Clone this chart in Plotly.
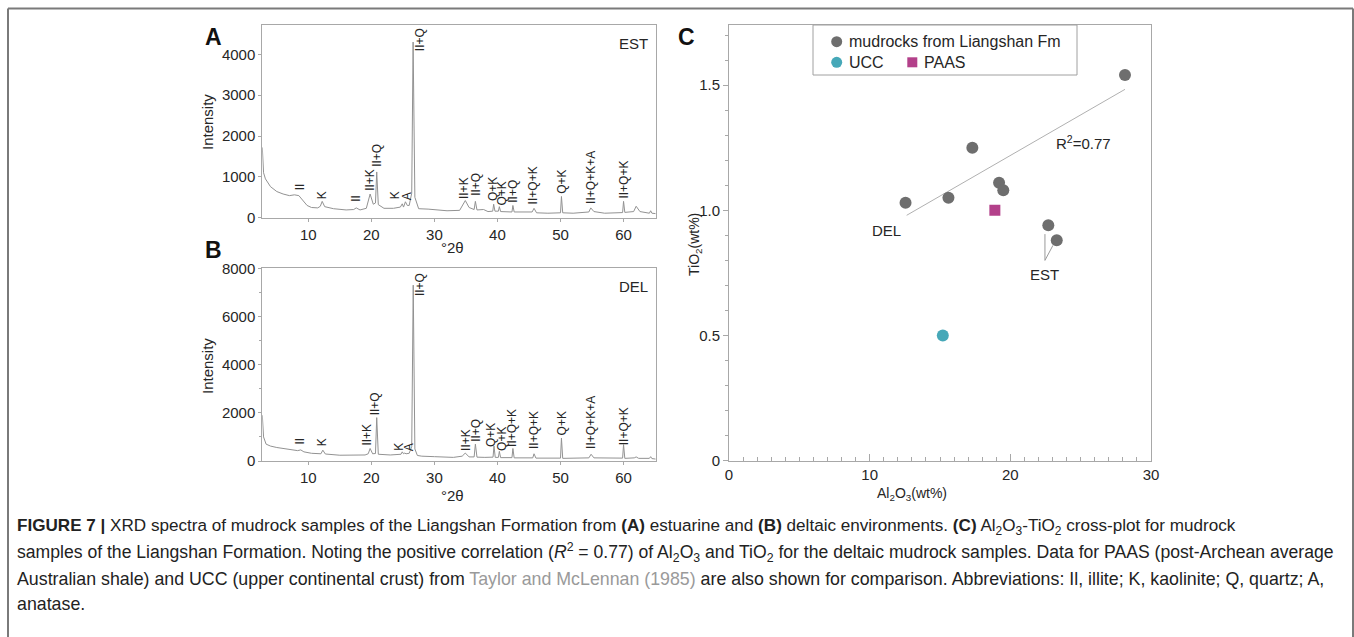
import plotly.graph_objects as go

W, H = 1354, 637

# ---------------- data ----------------
# Panel A (EST) XRD spectrum
est_2theta = [2.7, 2.9, 3.2, 4.0, 5.0, 6.0, 7.0, 7.8, 8.5, 9.2, 9.8, 10.5, 11.5, 11.9, 12.2, 12.6,
              14.0, 16.0, 17.2, 17.6, 18.2, 19.2, 19.8, 20.3, 20.65, 20.85, 21.1, 22.0, 23.5, 24.6,
              24.9, 25.1, 25.4, 25.7, 26.0, 26.4, 26.62, 26.9, 27.5, 29.0, 30.0, 32.0, 34.0, 34.5,
              34.9, 35.5, 36.3, 36.5, 36.75, 37.8, 38.5, 39.25, 39.4, 39.6, 40.15, 40.3, 40.5,
              42.3, 42.45, 42.65, 45.5, 45.8, 46.2, 48.0, 50.0, 50.15, 50.35, 52.0, 54.5, 54.8,
              55.3, 57.0, 59.85, 60.0, 60.2, 61.6, 62.0, 62.6, 64.1, 64.3, 64.5, 65.1]
est_int = [1720, 1100, 950, 760, 640, 580, 540, 560, 540, 420, 300, 250, 240, 280, 400, 270,
           220, 190, 200, 240, 190, 230, 580, 330, 360, 1120, 320, 230, 230, 260,
           340, 260, 390, 300, 300, 600, 4300, 500, 220, 210, 200, 170, 180, 300,
           420, 250, 200, 400, 190, 200, 150, 160, 330, 160, 160, 270, 150,
           140, 300, 140, 140, 230, 120, 110, 120, 520, 120, 110, 140, 240,
           150, 110, 125, 400, 130, 150, 280, 150, 110, 170, 110, 100]

# Panel B (DEL) XRD spectrum
del_2theta = [2.7, 2.9, 3.3, 4.0, 5.0, 6.0, 7.0, 8.3, 8.8, 9.3, 10.5, 11.5, 12.0, 12.3, 12.7,
              15.0, 17.5, 19.0, 19.5, 19.8, 20.2, 20.65, 20.85, 21.1, 23.0, 24.7, 24.9, 25.1,
              25.3, 25.5, 26.0, 26.4, 26.64, 26.9, 27.3, 28.0, 30.0, 33.0, 34.4, 34.9, 35.5,
              36.3, 36.5, 36.75, 38.0, 39.3, 39.45, 39.65, 40.15, 40.3, 40.5, 42.3, 42.45,
              42.65, 45.6, 45.8, 46.1, 48.0, 50.0, 50.15, 50.35, 54.5, 54.85, 55.3, 59.85,
              60.0, 60.2, 61.7, 62.0, 62.4, 64.1, 64.3, 64.5, 65.1]
del_int = [1900, 1000, 700, 620, 560, 520, 480, 430, 460, 380, 320, 290, 300, 450, 290,
           240, 230, 250, 300, 520, 300, 310, 1800, 280, 250, 280, 380, 300,
           330, 300, 320, 600, 7300, 500, 230, 200, 180, 150, 200, 330, 170,
           170, 700, 160, 150, 160, 620, 150, 150, 400, 140, 140, 520,
           130, 130, 300, 120, 110, 120, 950, 110, 130, 280, 130, 120,
           680, 110, 130, 170, 110, 110, 180, 100, 80]

# Peak labels: text, label x (2theta), label bottom (intensity)
est_lab_text = ["II", "K", "II", "II+K", "II+Q", "K", "A", "II+Q", "II+K", "II+Q", "Q+K", "Q+K",
                "II+Q", "II+Q+K", "Q+K", "II+Q+K+A", "II+Q+K"]
est_lab_x = [8.7, 12.2, 17.6, 19.8, 20.9, 23.8, 25.6, 27.7, 34.7, 36.7, 39.2, 40.7,
             42.45, 45.7, 50.2, 54.9, 60.0]
est_lab_y = [636, 433, 360, 636, 1209, 433, 392, 4063, 433, 514, 392, 270,
             352, 311, 555, 311, 433]

del_lab_text = ["II", "K", "II+K", "II+Q", "K", "A", "II+Q", "II+K", "II+Q", "Q+K", "Q+K",
                "II+Q+K", "II+Q+K", "Q+K", "II+Q+K+A", "II+Q+K"]
del_lab_x = [8.7, 12.3, 19.3, 20.6, 24.4, 25.9, 27.7, 34.9, 36.6, 39.1, 40.6,
             42.4, 45.8, 50.2, 54.9, 60.0]
del_lab_y = [623, 567, 595, 1840, 388, 346, 6823, 388, 733, 526, 388,
             526, 457, 1010, 457, 595]

# Panel C: Al2O3 vs TiO2 (wt%)
mud_al2o3 = [28.15, 17.3, 19.2, 19.5, 15.6, 12.55, 22.7, 23.3]
mud_tio2 = [1.54, 1.25, 1.11, 1.08, 1.05, 1.03, 0.94, 0.88]
ucc_al2o3 = [15.2]
ucc_tio2 = [0.50]
paas_al2o3 = [18.9]
paas_tio2 = [1.00]
trend_al2o3 = [12.63, 28.15]
trend_tio2 = [0.98, 1.483]
est_leader_x = [22.46, 22.46, None, 23.03, 22.46]
est_leader_y = [0.905, 0.80, None, 0.86, 0.80]

c_xticks = [0, 10, 20, 30]
c_yticks = [0, 0.5, 1.0, 1.5]
c_yticklabels = ["0", "0.5", "1.0", "1.5"]

# ---------------- layout helpers ----------------
def px(x):
    return x / W

def py(y):
    return 1 - y / H

FONT = "Liberation Sans, Arial, sans-serif"
AXC = "#a8a8a8"
TXT = "#262626"

fig = go.Figure()

# spectra
fig.add_trace(go.Scatter(x=est_2theta, y=est_int, mode="lines",
                         line=dict(color="#929292", width=1), xaxis="x", yaxis="y",
                         showlegend=False, hoverinfo="skip"))
fig.add_trace(go.Scatter(x=del_2theta, y=del_int, mode="lines",
                         line=dict(color="#929292", width=1), xaxis="x2", yaxis="y2",
                         showlegend=False, hoverinfo="skip"))

# panel C
fig.add_trace(go.Scatter(x=trend_al2o3, y=trend_tio2, mode="lines",
                         line=dict(color="#b0b0b0", width=1), xaxis="x3", yaxis="y3",
                         showlegend=False, hoverinfo="skip"))
fig.add_trace(go.Scatter(x=est_leader_x, y=est_leader_y, mode="lines",
                         line=dict(color="#9a9a9a", width=1), xaxis="x3", yaxis="y3",
                         showlegend=False, hoverinfo="skip"))
fig.add_trace(go.Scatter(x=mud_al2o3, y=mud_tio2, mode="markers",
                         marker=dict(color="#6e6e6e", size=12, line=dict(width=0)),
                         xaxis="x3", yaxis="y3", showlegend=False))
fig.add_trace(go.Scatter(x=ucc_al2o3, y=ucc_tio2, mode="markers",
                         marker=dict(color="#46a8b8", size=12, line=dict(width=0)),
                         xaxis="x3", yaxis="y3", showlegend=False))
fig.add_trace(go.Scatter(x=paas_al2o3, y=paas_tio2, mode="markers",
                         marker=dict(color="#b3408a", size=11, symbol="square", line=dict(width=0)),
                         xaxis="x3", yaxis="y3", showlegend=False))

# legend glyphs on an overlay axis spanning the legend box (0..1 units)
leg_x0, leg_x1, leg_y0, leg_y1 = 813, 1077, 25, 75
def lx(x):
    return (x - leg_x0) / (leg_x1 - leg_x0)
def ly(y):
    return (leg_y1 - y) / (leg_y1 - leg_y0)
fig.add_trace(go.Scatter(x=[lx(836.7)], y=[ly(41.7)], mode="markers",
                         marker=dict(color="#6e6e6e", size=11), xaxis="x4", yaxis="y4",
                         showlegend=False, hoverinfo="skip"))
fig.add_trace(go.Scatter(x=[lx(836.7)], y=[ly(62.3)], mode="markers",
                         marker=dict(color="#46a8b8", size=11), xaxis="x4", yaxis="y4",
                         showlegend=False, hoverinfo="skip"))
fig.add_trace(go.Scatter(x=[lx(912.3)], y=[ly(62.3)], mode="markers",
                         marker=dict(color="#b3408a", size=10, symbol="square"), xaxis="x4", yaxis="y4",
                         showlegend=False, hoverinfo="skip"))

tickfont = dict(family=FONT, size=15, color=TXT)

def xrd_xaxis(dom, anchor):
    return dict(domain=dom, anchor=anchor, range=[2.7, 65.1], showline=True, linecolor=AXC,
                linewidth=1, mirror=True, ticks="outside", ticklen=3, tickcolor=AXC,
                tickvals=[10, 20, 30, 40, 50, 60], tickfont=tickfont, showgrid=False,
                zeroline=False, automargin=False)

ydomA = [py(217.7), py(25)]
ydomB = [py(461), py(268.3)]
xdomAB = [px(262.3), px(655.7)]

fig.update_layout(
    width=W, height=H, margin=dict(l=0, r=0, t=0, b=0, pad=0, autoexpand=False),
    paper_bgcolor="white", plot_bgcolor="white", showlegend=False,
    font=dict(family=FONT, color=TXT),
    xaxis=xrd_xaxis(xdomAB, "y"),
    yaxis=dict(domain=ydomA, anchor="x", range=[0, 4717], showline=True, linecolor=AXC,
               linewidth=1, mirror=True, ticks="outside", ticklen=3, tickcolor=AXC,
               tickvals=[0, 1000, 2000, 3000, 4000], tickfont=tickfont, showgrid=False,
               zeroline=False, automargin=False),
    xaxis2=xrd_xaxis(xdomAB, "y2"),
    yaxis2=dict(domain=ydomB, anchor="x2", range=[0, 8000], showline=True, linecolor=AXC,
                linewidth=1, mirror=True, ticks="outside", ticklen=3, tickcolor=AXC,
                tickvals=[0, 2000, 4000, 6000, 8000], tickfont=tickfont, showgrid=False,
                zeroline=False, automargin=False,
                minor=dict(tickvals=[1000, 3000, 5000, 7000], ticks="outside", ticklen=2,
                           tickcolor=AXC)),
    xaxis3=dict(domain=[px(729), px(1151)], anchor="y3", range=[0, 30], showline=True,
                linecolor=AXC, linewidth=1, mirror=True, ticks="inside", ticklen=7,
                tickcolor=AXC, tickvals=c_xticks, tickfont=tickfont, showgrid=False,
                zeroline=False, automargin=False,
                minor=dict(dtick=1, ticks="inside", ticklen=4, tickcolor=AXC)),
    yaxis3=dict(domain=[py(460.7), py(25)], anchor="x3", range=[0, 1.74], showline=True,
                linecolor=AXC, linewidth=1, mirror=True, ticks="outside", ticklen=5,
                tickcolor=AXC, tickvals=c_yticks, ticktext=c_yticklabels, tickfont=tickfont,
                showgrid=False, zeroline=False, automargin=False,
                minor=dict(dtick=0.1, ticks="outside", ticklen=3, tickcolor=AXC)),
    xaxis4=dict(domain=[px(leg_x0), px(leg_x1)], anchor="y4", range=[0, 1], visible=False,
                automargin=False),
    yaxis4=dict(domain=[py(leg_y1), py(leg_y0)], anchor="x4", range=[0, 1], visible=False,
                automargin=False),
)

shapes = []
# figure frame
for (x0, y0, x1, y1) in [(8, 8.5, 1353, 8.5), (8, 8.5, 8, 637), (1353, 8.5, 1353, 637)]:
    shapes.append(dict(type="line", xref="paper", yref="paper", x0=px(x0), y0=py(y0),
                       x1=px(x1), y1=py(y1), line=dict(color="#7a7a7a", width=2)))
# legend box
shapes.append(dict(type="rect", xref="paper", yref="paper", x0=px(leg_x0), y0=py(leg_y1),
                   x1=px(leg_x1), y1=py(leg_y0), line=dict(color="#a0a0a0", width=1),
                   fillcolor="rgba(0,0,0,0)"))
fig.update_layout(shapes=shapes)

ann = []
def pa(text, x, y, size=15, xanchor="center", yanchor="middle", angle=0, bold=False, color=TXT):
    if bold:
        text = "<b>" + text + "</b>"
    ann.append(dict(text=text, xref="paper", yref="paper", x=px(x), y=py(y), showarrow=False,
                    xanchor=xanchor, yanchor=yanchor, textangle=angle,
                    font=dict(family=FONT, size=size, color=color)))

pa("A", 203, 37, size=23, xanchor="left", bold=True, color="#111")
pa("B", 203, 250, size=23, xanchor="left", bold=True, color="#111")
pa("C", 676, 37, size=23, xanchor="left", bold=True, color="#111")
pa("EST", 650, 43, xanchor="right")
pa("DEL", 650, 287, xanchor="right")
pa("Intensity", 207, 122, angle=-90)
pa("Intensity", 207, 366, angle=-90)
pa("°2θ", 453, 247)
pa("°2θ", 453, 495)
pa("TiO<sub>2</sub>(wt%)", 695, 245, size=14, angle=-90)
pa("Al<sub>2</sub>O<sub>3</sub>(wt%)", 912, 494, size=14)
pa("mudrocks from Liangshan Fm", 847, 41.7, size=16, xanchor="left")
pa("UCC", 847, 62.3, size=16, xanchor="left")
pa("PAAS", 922, 62.3, size=16, xanchor="left")

# panel C text labels in data coordinates
for t, x, y in [("R<sup>2</sup>=0.77", 25.2, 1.27), ("DEL", 11.2, 0.92), ("EST", 22.4, 0.745)]:
    ann.append(dict(text=t, xref="x3", yref="y3", x=x, y=y, showarrow=False,
                    font=dict(family=FONT, size=15, color=TXT)))

# peak labels
for texts, xs, ys, xr, yr in [(est_lab_text, est_lab_x, est_lab_y, "x", "y"),
                              (del_lab_text, del_lab_x, del_lab_y, "x2", "y2")]:
    for t, x, y in zip(texts, xs, ys):
        ann.append(dict(text=t, xref=xr, yref=yr, x=x, y=y, showarrow=False, textangle=-90,
                        xanchor="center", yanchor="bottom", borderpad=0,
                        font=dict(family=FONT, size=12, color=TXT)))

# caption
cap = [
    "<b>FIGURE 7 |</b> XRD spectra of mudrock samples of the Liangshan Formation from <b>(A)</b> estuarine and "
    "<b>(B)</b> deltaic environments. <b>(C)</b> Al<sub>2</sub>O<sub>3</sub>-TiO<sub>2</sub> cross-plot for mudrock",
    "samples of the Liangshan Formation. Noting the positive correlation (<i>R</i><sup>2</sup> = 0.77) of "
    "Al<sub>2</sub>O<sub>3</sub> and TiO<sub>2</sub> for the deltaic mudrock samples. Data for PAAS (post-Archean average",
    "Australian shale) and UCC (upper continental crust) from <span style='color:#9a9a9a'>Taylor and McLennan (1985)</span> "
    "are also shown for comparison. Abbreviations: Il, illite; K, kaolinite; Q, quartz; A,",
    "anatase.",
]
cap_sizes = [17.1, 17.6, 17.8, 17.8]
for i, line in enumerate(cap):
    pa(line, 15, 527 + 25.8 * i, size=cap_sizes[i], xanchor="left", color="#222")

fig.update_layout(annotations=ann)
fig.write_html("out.html", config={"displayModeBar": False},
               post_script="document.body.style.margin='0';document.body.style.padding='0';"
                           "document.documentElement.style.overflow='hidden';"
                           "document.body.style.overflow='hidden';")
